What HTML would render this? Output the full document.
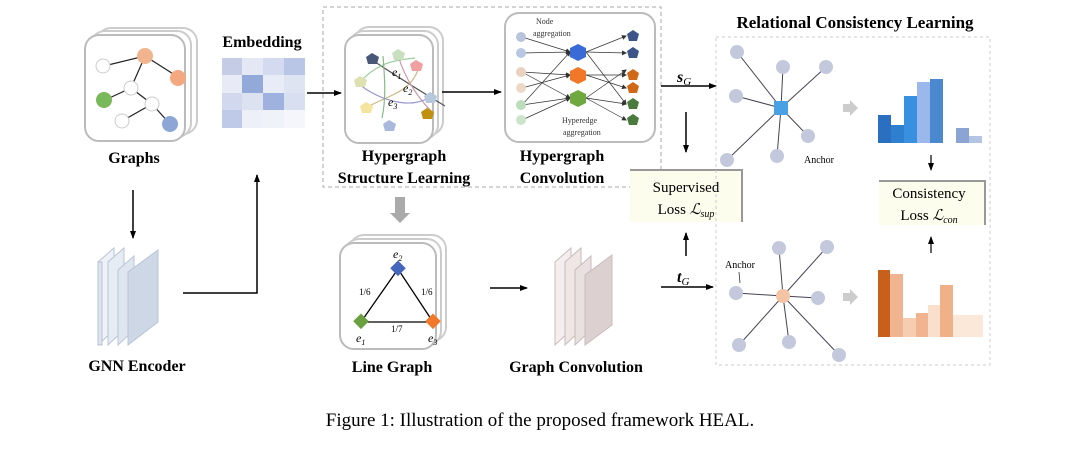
<!DOCTYPE html>
<html><head><meta charset="utf-8"><style>
html,body{margin:0;padding:0;background:#fff;}
svg{display:block;}
text{font-family:"Liberation Serif",serif;}
.b{font-weight:bold;font-size:16px;}
</style></head><body>
<svg width="1080" height="457" viewBox="0 0 1080 457" xmlns="http://www.w3.org/2000/svg">
<defs>
<marker id="ar" markerWidth="8" markerHeight="8" refX="7" refY="4" orient="auto" markerUnits="userSpaceOnUse"><path d="M0,1 L8,4 L0,7 z" fill="#000"/></marker>
<marker id="as" markerWidth="5" markerHeight="5" refX="4" refY="2.5" orient="auto" markerUnits="userSpaceOnUse"><path d="M0,0 L5,2.5 L0,5 z" fill="#333"/></marker>
</defs>

<!-- Graphs card -->
<rect x="97" y="28" width="100" height="106" rx="14" fill="#fff" stroke="#ccc" stroke-width="2"/>
<rect x="91" y="31" width="100" height="106" rx="14" fill="#fff" stroke="#ccc" stroke-width="2"/>
<rect x="85" y="35" width="100" height="106" rx="14" fill="#fff" stroke="#bbb" stroke-width="2"/>
<g stroke="#222" stroke-width="1.2">
<line x1="104" y1="66" x2="145" y2="56"/><line x1="145" y1="56" x2="178" y2="77"/><line x1="145" y1="56" x2="131" y2="88"/>
<line x1="131" y1="88" x2="105" y2="100"/><line x1="131" y1="88" x2="152" y2="104"/><line x1="152" y1="104" x2="122" y2="121"/><line x1="152" y1="104" x2="170" y2="124"/>
</g>
<circle cx="103" cy="66" r="7" fill="#fff" stroke="#ccc"/><circle cx="145" cy="56" r="8" fill="#f2b48e"/><circle cx="178" cy="78" r="8" fill="#f4a880"/>
<circle cx="131" cy="88" r="7" fill="#fff" stroke="#ccc"/><circle cx="104" cy="100" r="8" fill="#7ab85c"/><circle cx="152" cy="104" r="7" fill="#fff" stroke="#ccc"/>
<circle cx="122" cy="121" r="7" fill="#fff" stroke="#ccc"/><circle cx="170" cy="124" r="8" fill="#8ca6d6"/>
<text x="134" y="163" class="b" text-anchor="middle">Graphs</text>

<!-- Embedding -->
<text x="262" y="47" class="b" text-anchor="middle">Embedding</text>
<g>
<rect x="222" y="58" width="20" height="17" fill="#c5cde6"/><rect x="242" y="58" width="21" height="17" fill="#e3e8f4"/><rect x="263" y="58" width="21" height="17" fill="#d4daef"/><rect x="284" y="58" width="21" height="17" fill="#b9c6e6"/>
<rect x="222" y="75" width="20" height="18" fill="#e8ebf6"/><rect x="242" y="75" width="21" height="18" fill="#93a9da"/><rect x="263" y="75" width="21" height="18" fill="#e8ecf6"/><rect x="284" y="75" width="21" height="18" fill="#dfe4f2"/>
<rect x="222" y="93" width="20" height="17" fill="#d2d8ed"/><rect x="242" y="93" width="21" height="17" fill="#dde2f1"/><rect x="263" y="93" width="21" height="17" fill="#9fb2df"/><rect x="284" y="93" width="21" height="17" fill="#d8dff1"/>
<rect x="222" y="110" width="20" height="18" fill="#bfcae8"/><rect x="242" y="110" width="21" height="18" fill="#edf0f8"/><rect x="263" y="110" width="21" height="18" fill="#f0f2f9"/><rect x="284" y="110" width="21" height="18" fill="#f4f6fb"/>
</g>
<line x1="307" y1="93" x2="341" y2="93" stroke="#000" stroke-width="1.5" marker-end="url(#ar)"/>

<!-- dashed box -->
<rect x="323" y="7" width="338" height="180" fill="none" stroke="#aaa" stroke-dasharray="4,3"/>
<rect x="355" y="27" width="88" height="108" rx="14" fill="#fff" stroke="#ccc" stroke-width="2"/>
<rect x="350" y="31" width="88" height="108" rx="14" fill="#fff" stroke="#ccc" stroke-width="2"/>
<rect x="345" y="35" width="88" height="108" rx="14" fill="#fff" stroke="#bbb" stroke-width="2"/>
<g fill="none" stroke-width="1.2">
<path d="M372,60 C395,75 410,85 445,106" stroke="#555"/>
<path d="M360,82 C380,60 400,60 415,58" stroke="#9c9"/>
<path d="M365,108 C390,95 410,92 418,70" stroke="#cb8"/>
<path d="M383,56 C385,80 386,100 382,118" stroke="#8b8"/>
<path d="M398,55 C405,80 420,100 432,112" stroke="#c9a"/>
<path d="M360,85 C380,100 410,110 430,97" stroke="#99c"/>
</g>
<polygon points="372,53 379,57 377,64 368,64 366,57" fill="#4a5878"/>
<polygon points="398,49 405,53 403,60 394,60 392,53" fill="#c8e0c0"/>
<polygon points="416,60 423,64 421,71 412,71 410,64" fill="#f0a0a0"/>
<polygon points="360,76 367,80 365,87 356,87 354,80" fill="#dde0b0"/>
<polygon points="430,92 437,96 435,103 426,103 424,96" fill="#b8c8dc"/>
<polygon points="366,102 373,106 371,113 362,113 360,106" fill="#f4e4a0"/>
<polygon points="427,108 434,112 432,119 423,119 421,112" fill="#c09010"/>
<polygon points="389,120 396,124 394,131 385,131 383,124" fill="#aab8dc"/>
<text x="392" y="76" font-size="12" font-style="italic">e<tspan font-size="8" dy="3">1</tspan></text>
<text x="403" y="92" font-size="12" font-style="italic">e<tspan font-size="8" dy="3">2</tspan></text>
<text x="388" y="106" font-size="12" font-style="italic">e<tspan font-size="8" dy="3">3</tspan></text>
<text x="404" y="161" class="b" text-anchor="middle">Hypergraph</text>
<text x="404" y="183" class="b" text-anchor="middle">Structure Learning</text>
<line x1="442" y1="92" x2="501" y2="92" stroke="#000" stroke-width="1.5" marker-end="url(#ar)"/>

<!-- Hypergraph conv -->
<rect x="505" y="13" width="150" height="129" rx="14" fill="#fff" stroke="#bbb" stroke-width="2"/>
<g stroke="#333" stroke-width="0.7" marker-end="url(#as)">
<line x1="522" y1="37" x2="570" y2="52"/><line x1="522" y1="53" x2="570" y2="52"/><line x1="522" y1="72" x2="570" y2="98"/><line x1="522" y1="88" x2="570" y2="75"/><line x1="522" y1="105" x2="570" y2="52"/><line x1="522" y1="120" x2="570" y2="98"/><line x1="522" y1="72" x2="570" y2="75"/><line x1="522" y1="105" x2="570" y2="98"/>
<line x1="586" y1="52" x2="626" y2="36"/><line x1="586" y1="52" x2="626" y2="53"/><line x1="586" y1="75" x2="626" y2="75"/><line x1="586" y1="75" x2="626" y2="88"/><line x1="586" y1="98" x2="626" y2="104"/><line x1="586" y1="98" x2="626" y2="120"/><line x1="586" y1="52" x2="626" y2="104"/><line x1="586" y1="98" x2="626" y2="70"/>
</g>
<g><circle cx="521" cy="37" r="5" fill="#b8c4dc"/><circle cx="521" cy="53" r="5" fill="#b8c8e4"/><circle cx="521" cy="72" r="5" fill="#ecd0c0"/><circle cx="521" cy="88" r="5" fill="#ecd8c8"/><circle cx="521" cy="105" r="5" fill="#bcdcbc"/><circle cx="521" cy="120" r="5" fill="#cce4cc"/></g>
<polygon points="578,44 586,48 586,57 578,61 570,57 570,48" fill="#3a6ad6"/>
<polygon points="578,67 586,71 586,80 578,84 570,80 570,71" fill="#f07828"/>
<polygon points="578,90 586,94 586,103 578,107 570,103 570,94" fill="#70a840"/>
<g><polygon points="633,30 639,34 637,41 629,41 627,34" fill="#3c5488"/><polygon points="633,47 639,51 637,58 629,58 627,51" fill="#3c5488"/><polygon points="633,69 639,73 637,80 629,80 627,73" fill="#d06818"/><polygon points="633,82 639,86 637,93 629,93 627,86" fill="#d06818"/><polygon points="633,98 639,102 637,109 629,109 627,102" fill="#4a7a3c"/><polygon points="633,114 639,118 637,125 629,125 627,118" fill="#4a7a3c"/></g>
<text x="536" y="24" font-size="8" fill="#333">Node</text><text x="533" y="36" font-size="8" fill="#333">aggregation</text>
<text x="562" y="123" font-size="8" fill="#333">Hyperedge</text><text x="563" y="135" font-size="8" fill="#333">aggregation</text>
<text x="562" y="161" class="b" text-anchor="middle">Hypergraph</text>
<text x="562" y="183" class="b" text-anchor="middle">Convolution</text>

<!-- sG -->
<text x="677" y="82" font-size="16" font-weight="bold" font-style="italic">s<tspan font-size="11" dy="3" font-weight="normal">G</tspan></text>
<line x1="661" y1="86" x2="716" y2="86" stroke="#000" stroke-width="1.5" marker-end="url(#ar)"/>
<line x1="686" y1="112" x2="686" y2="152" stroke="#000" stroke-width="1.5" marker-end="url(#ar)"/>
<rect x="630" y="170" width="112" height="52" fill="#fdfdee"/>
<path d="M630,170 L742,170 L742,222" fill="none" stroke="#999" stroke-width="2"/>
<text x="686" y="192" font-size="15" text-anchor="middle">Supervised</text>
<text x="686" y="214" font-size="15" text-anchor="middle">Loss <tspan font-style="italic">ℒ</tspan><tspan font-size="10" font-style="italic" dy="3">sup</tspan></text>
<line x1="686" y1="256" x2="686" y2="233" stroke="#000" stroke-width="1.5" marker-end="url(#ar)"/>
<text x="677" y="282" font-size="16" font-weight="bold" font-style="italic">t<tspan font-size="11" dy="3" font-weight="normal">G</tspan></text>
<line x1="661" y1="287" x2="713" y2="287" stroke="#000" stroke-width="1.5" marker-end="url(#ar)"/>

<!-- Relational -->
<text x="855" y="28" font-size="17" font-weight="bold" text-anchor="middle">Relational Consistency Learning</text>
<rect x="716" y="37" width="274" height="328" fill="none" stroke="#ccc" stroke-dasharray="3,3"/>
<g stroke="#445" stroke-width="1">
<line x1="781" y1="108" x2="737" y2="52"/><line x1="781" y1="108" x2="783" y2="67"/><line x1="781" y1="108" x2="826" y2="67"/><line x1="781" y1="108" x2="736" y2="96"/><line x1="781" y1="108" x2="808" y2="136"/><line x1="781" y1="108" x2="777" y2="156"/><line x1="781" y1="108" x2="727" y2="160"/>
</g>
<g fill="#c4c8dc"><circle cx="737" cy="52" r="7"/><circle cx="783" cy="67" r="7"/><circle cx="826" cy="67" r="7"/><circle cx="736" cy="96" r="7"/><circle cx="808" cy="136" r="7"/><circle cx="777" cy="156" r="7"/><circle cx="727" cy="160" r="7"/></g>
<rect x="774" y="101" width="14" height="14" fill="#4aa0e4"/>
<text x="804" y="163" font-size="10">Anchor</text>
<path d="M843,104 L850,104 L850,100 L858,108 L850,116 L850,112 L843,112 z" fill="#ccc"/>
<g>
<rect x="878" y="115" width="13" height="28" fill="#2b70c0"/><rect x="891" y="125" width="13" height="18" fill="#2f7fd0"/><rect x="904" y="96" width="13" height="47" fill="#3a90e0"/><rect x="917" y="82" width="13" height="61" fill="#9ab8ec"/><rect x="930" y="79" width="13" height="64" fill="#4a88d0"/><rect x="956" y="128" width="13" height="15" fill="#8ca4d4"/><rect x="969" y="136" width="13" height="7" fill="#b4c4e4"/>
</g>
<line x1="931" y1="155" x2="931" y2="170" stroke="#000" stroke-width="1.2" marker-end="url(#ar)"/>
<rect x="879" y="180" width="106" height="45" fill="#fdfdee"/>
<path d="M879,181 L985,181 L985,225" fill="none" stroke="#999" stroke-width="2"/>
<text x="929" y="198" font-size="15" text-anchor="middle">Consistency</text>
<text x="929" y="220" font-size="15" text-anchor="middle">Loss <tspan font-style="italic">ℒ</tspan><tspan font-size="10" font-style="italic" dy="3">con</tspan></text>
<line x1="931" y1="253" x2="931" y2="237" stroke="#000" stroke-width="1.2" marker-end="url(#ar)"/>
<g>
<rect x="878" y="270" width="12" height="67" fill="#c8601c"/><rect x="890" y="274" width="13" height="63" fill="#f0b490"/><rect x="903" y="318" width="13" height="19" fill="#f6cdb0"/><rect x="916" y="313" width="12" height="24" fill="#f0b490"/><rect x="928" y="305" width="12" height="32" fill="#fae0cc"/><rect x="940" y="285" width="13" height="52" fill="#f0b088"/><rect x="953" y="315" width="30" height="22" fill="#fbe8d8"/>
</g>
<g stroke="#445" stroke-width="1">
<line x1="783" y1="296" x2="779" y2="248"/><line x1="783" y1="296" x2="827" y2="247"/><line x1="783" y1="296" x2="736" y2="293"/><line x1="783" y1="296" x2="818" y2="298"/><line x1="783" y1="296" x2="789" y2="342"/><line x1="783" y1="296" x2="739" y2="345"/><line x1="783" y1="296" x2="839" y2="355"/>
</g>
<g fill="#c4c8dc"><circle cx="779" cy="248" r="7"/><circle cx="827" cy="247" r="7"/><circle cx="736" cy="293" r="7"/><circle cx="818" cy="298" r="7"/><circle cx="789" cy="342" r="7"/><circle cx="739" cy="345" r="7"/><circle cx="839" cy="355" r="7"/></g>
<circle cx="783" cy="296" r="7" fill="#f4c4a4"/>
<text x="725" y="268" font-size="10">Anchor</text>
<line x1="739" y1="272" x2="740" y2="283" stroke="#333" stroke-width="0.8"/>
<path d="M843,293 L850,293 L850,289 L858,297 L850,305 L850,301 L843,301 z" fill="#ccc"/>

<!-- GNN encoder -->
<line x1="133" y1="190" x2="133" y2="238" stroke="#000" stroke-width="1.5" marker-end="url(#ar)"/>
<g stroke="#b8c4d4" stroke-width="1">
<polygon points="98,262 114,248 114,330 98,345" fill="#eef2f8"/>
<polygon points="98,262 102,262 102,345 98,345" fill="#dde4ee"/>
<polygon points="108,262 124,248 124,330 108,345" fill="#e6ecf4"/>
<polygon points="118,270 134,256 134,330 118,345" fill="#dfe6f0"/>
<polygon points="128,272 158,250 158,322 128,345" fill="#cdd7e6"/>
</g>
<text x="137" y="371" class="b" text-anchor="middle">GNN Encoder</text>
<polyline points="183,293 257,293 257,175" fill="none" stroke="#000" stroke-width="1.5" marker-end="url(#ar)"/>

<!-- Line graph -->
<path d="M395,197 L395,213 L390,213 L400,223 L410,213 L405,213 L405,197 z" fill="#aaa"/>
<rect x="350" y="235" width="96" height="106" rx="14" fill="#fff" stroke="#ccc" stroke-width="2"/>
<rect x="345" y="239" width="96" height="106" rx="14" fill="#fff" stroke="#ccc" stroke-width="2"/>
<rect x="340" y="243" width="96" height="106" rx="14" fill="#fff" stroke="#bbb" stroke-width="2"/>
<polygon points="398,269 361,322 433,322" fill="none" stroke="#000" stroke-width="1.3"/>
<rect x="392" y="263" width="11" height="11" fill="#4466bb" transform="rotate(45 398 269)"/>
<rect x="355" y="316" width="11" height="11" fill="#6aa040" transform="rotate(45 361 322)"/>
<rect x="427" y="316" width="11" height="11" fill="#f07828" transform="rotate(45 433 322)"/>
<text x="393" y="258" font-size="12" font-style="italic">e<tspan font-size="8" dy="3">2</tspan></text>
<text x="356" y="342" font-size="12" font-style="italic">e<tspan font-size="8" dy="3">1</tspan></text>
<text x="428" y="342" font-size="12" font-style="italic">e<tspan font-size="8" dy="3">3</tspan></text>
<text x="359" y="295" font-size="9">1/6</text><text x="421" y="295" font-size="9">1/6</text><text x="391" y="332" font-size="9">1/7</text>
<text x="392" y="372" class="b" text-anchor="middle">Line Graph</text>
<line x1="490" y1="288" x2="527" y2="288" stroke="#000" stroke-width="1.5" marker-end="url(#ar)"/>

<!-- Graph Conv -->
<g stroke="#c8bcbc" stroke-width="1">
<polygon points="555,262 571,248 571,330 555,345" fill="#f4eeee"/>
<polygon points="565,262 581,248 581,330 565,345" fill="#efe6e6"/>
<polygon points="575,270 591,256 591,330 575,345" fill="#e9e0e0"/>
<polygon points="585,275 612,255 612,325 585,345" fill="#dcd0d0"/>
</g>
<text x="576" y="372" class="b" text-anchor="middle">Graph Convolution</text>

<text x="540" y="426" font-size="19" text-anchor="middle">Figure 1: Illustration of the proposed framework HEAL.</text>
</svg>
</body></html>
